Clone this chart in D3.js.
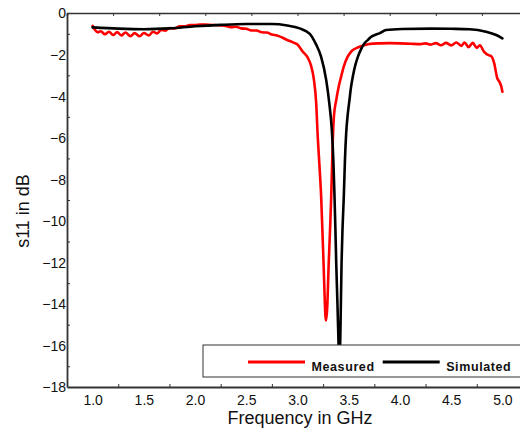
<!DOCTYPE html>
<html><head><meta charset="utf-8">
<script src="https://cdn.jsdelivr.net/npm/d3@7"></script>
<style>body{margin:0;background:#fff;}svg{display:block;font-family:Arial,"Liberation Sans",sans-serif;}</style>
</head><body>
<svg id="chart" width="520" height="432"></svg>
<script>
const freqMeasured = [1.00,1.02,1.05,1.08,1.12,1.16,1.20,1.24,1.28,1.32,1.37,1.41,1.46,1.50,1.55,1.59,1.63,1.67,1.71,1.75,1.80,1.85,1.90,1.95,2.00,2.05,2.10,2.20,2.30,2.35,2.40,2.45,2.50,2.55,2.60,2.65,2.70,2.75,2.80,2.85,2.90,2.95,3.00,3.05,3.10,3.13,3.16,3.182,3.198,3.215,3.231,3.254,3.266,3.273,3.28,3.29,3.305,3.318,3.329,3.344,3.355,3.378,3.40,3.426,3.45,3.49,3.52,3.54,3.58,3.62,3.70,3.80,3.90,4.00,4.10,4.20,4.25,4.30,4.35,4.40,4.45,4.50,4.55,4.60,4.63,4.67,4.71,4.75,4.78,4.82,4.86,4.89,4.92,4.95,4.97,4.99,5.00];
const s11Measured = [-0.62,-0.80,-0.92,-0.88,-1.02,-0.90,-1.06,-0.92,-1.08,-0.94,-1.12,-0.97,-1.12,-0.96,-1.08,-0.90,-0.98,-0.82,-0.85,-0.72,-0.74,-0.64,-0.64,-0.58,-0.58,-0.55,-0.56,-0.58,-0.62,-0.68,-0.66,-0.74,-0.76,-0.84,-0.84,-0.93,-0.94,-1.04,-1.08,-1.18,-1.30,-1.40,-1.52,-1.85,-2.15,-2.5,-3.2,-4.3,-6.0,-7.4,-8.84,-12.0,-13.8,-14.6,-14.8,-14.2,-12.0,-10.4,-8.84,-6.2,-5.0,-4.2,-3.6,-3.06,-2.6,-2.1,-1.88,-1.78,-1.68,-1.60,-1.49,-1.46,-1.45,-1.46,-1.48,-1.50,-1.46,-1.52,-1.45,-1.55,-1.44,-1.56,-1.42,-1.58,-1.42,-1.64,-1.44,-1.68,-1.55,-1.86,-2.02,-2.07,-2.42,-3.14,-3.30,-3.55,-3.79];
const freqSimulated = [1.00,1.25,1.50,1.75,2.00,2.25,2.50,2.75,2.90,3.02,3.12,3.18,3.23,3.28,3.31,3.335,3.35,3.36,3.37,3.378,3.39,3.40,3.408,3.418,3.43,3.44,3.452,3.463,3.475,3.49,3.507,3.52,3.54,3.565,3.59,3.62,3.654,3.69,3.72,3.76,3.80,3.865,4.02,4.30,4.50,4.68,4.84,4.94,5.00];
const s11Simulated = [-0.69,-0.75,-0.78,-0.74,-0.64,-0.57,-0.53,-0.53,-0.60,-0.74,-1.0,-1.5,-2.1,-3.22,-4.33,-5.63,-7.1,-8.6,-10.4,-12.03,-14.0,-15.8,-17.0,-15.6,-12.03,-10.3,-8.84,-7.1,-5.8,-4.9,-4.2,-3.65,-3.06,-2.5,-2.1,-1.75,-1.46,-1.28,-1.14,-1.05,-0.98,-0.82,-0.77,-0.75,-0.76,-0.78,-0.90,-1.06,-1.22];
const xTickLabels = [1.0,1.5,2.0,2.5,3.0,3.5,4.0,4.5,5.0];
const yTickLabels = [0,-2,-4,-6,-8,-10,-12,-14,-16,-18];
const xMinorTicks = [1.25,1.75,2.25,2.75,3.25,3.75,4.25,4.75];
const yMinorTicks = [-1,-3,-5,-7,-9,-11,-13,-15,-17];
const topTicks = d3.range(0,11).map(k => 0.75 + k*0.45);
const seriesNames = ["Measured","Simulated"];
const seriesColors = ["#ff0000","#000000"];

const svg = d3.select("#chart");
const x = d3.scaleLinear().domain([0.75,5.25]).range([67,528]);
const y = d3.scaleLinear().domain([0,-18]).range([13,387]);

const axisColor = "#333";
const line = d3.line().x(d=>x(d[0])).y(d=>y(d[1])).curve(d3.curveMonotoneX);
const series = [d3.zip(freqMeasured,s11Measured), d3.zip(freqSimulated,s11Simulated)];
svg.selectAll("path.series").data(series).join("path").attr("class","series")
  .attr("d",line).attr("fill","none").attr("stroke",(d,i)=>seriesColors[i])
  .attr("stroke-width",2.6).attr("stroke-linejoin","round").attr("stroke-linecap","round");

const gx = svg.append("g").attr("transform","translate(0,387)")
  .call(d3.axisBottom(x).tickValues(xTickLabels).tickFormat(d3.format(".1f")).tickSize(0).tickPadding(8));
gx.select(".domain").attr("stroke",axisColor).attr("stroke-width",1.8);
gx.selectAll("text").attr("font-size",14).attr("fill","#111").attr("font-family","Arial, Liberation Sans, sans-serif");
svg.append("g").attr("transform","translate(0,387)")
  .call(d3.axisTop(x).tickValues(xMinorTicks).tickSize(3).tickFormat(""))
  .call(g=>g.select(".domain").remove()).selectAll("line").attr("stroke",axisColor);

const gt = svg.append("g").attr("transform","translate(0,13)")
  .call(d3.axisBottom(x).tickValues(topTicks).tickSize(3).tickFormat(""));
gt.select(".domain").attr("stroke",axisColor).attr("stroke-width",1.5);
gt.selectAll("line").attr("stroke",axisColor);

const gy = svg.append("g").attr("transform","translate(67,0)")
  .call(d3.axisLeft(y).tickValues(yTickLabels).tickFormat(d3.format("d")).tickSize(0).tickPadding(1));
gy.select(".domain").attr("stroke",axisColor).attr("stroke-width",1.8);
gy.selectAll("text").attr("font-size",14).attr("fill","#111").attr("dy","0.35em").attr("font-family","Arial, Liberation Sans, sans-serif");
svg.append("g").attr("transform","translate(67,0)")
  .call(d3.axisRight(y).tickValues(yMinorTicks).tickSize(3).tickFormat(""))
  .call(g=>g.select(".domain").remove()).selectAll("line").attr("stroke",axisColor);

svg.append("text").attr("x",300).attr("y",424).attr("text-anchor","middle")
  .attr("font-size",18).attr("fill","#111").text("Frequency in GHz");
svg.append("text").attr("transform","translate(29,211) rotate(-90)").attr("text-anchor","middle")
  .attr("font-size",18).attr("fill","#111").text("s11 in dB");

const lg = svg.append("g");
lg.append("rect").attr("x",203).attr("y",345).attr("width",330).attr("height",32)
  .attr("fill","#fff").attr("stroke",axisColor).attr("stroke-width",1);
const legX = [248,382.7];
seriesNames.forEach((n,i)=>{
  lg.append("line").attr("x1",legX[i]).attr("x2",legX[i]+57).attr("y1",362).attr("y2",362)
    .attr("stroke",seriesColors[i]).attr("stroke-width",3);
  lg.append("text").attr("x",legX[i]+63.5).attr("y",371).attr("font-size",12.5).attr("font-weight","bold")
    .attr("letter-spacing",0.6).attr("fill","#111").text(n);
});
</script>
</body></html>
